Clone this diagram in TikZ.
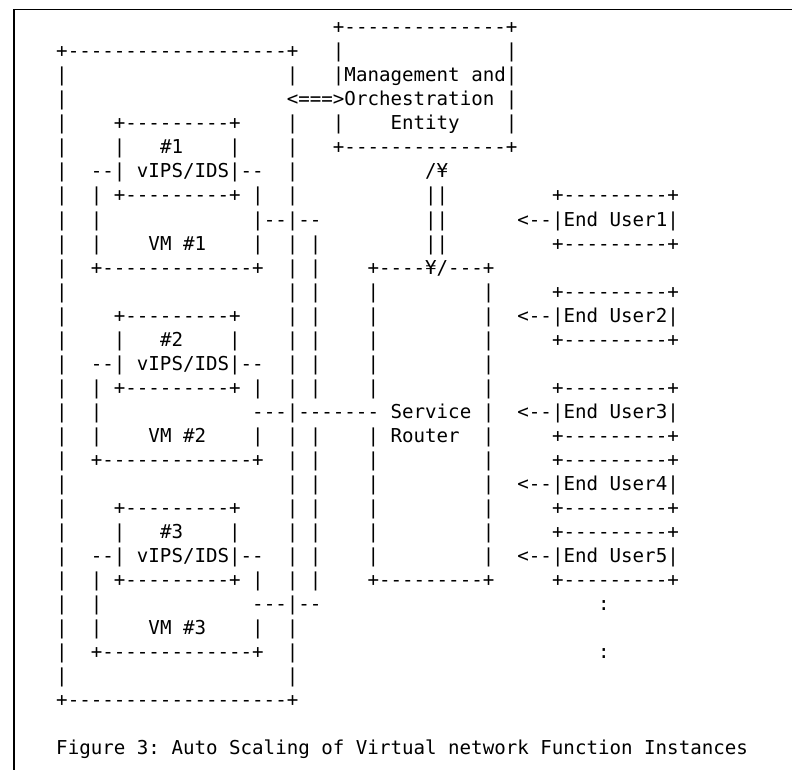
\documentclass[tikz,border=0pt]{standalone}
\usepackage{fontspec}
\setmonofont{DejaVu Sans Mono}
\begin{document}
\begin{tikzpicture}[
  ch/.style={anchor=base west, inner sep=0pt, outer sep=0pt,
    font=\ttfamily\fontsize{19.15pt}{24pt}\selectfont\frenchspacing},
  frame/.style={line width=1.8pt, black}
]
\useasboundingbox (0,0) rectangle (792pt,-770pt);
% page frame: left rule and top rule
\draw[frame] (14pt,-770pt) -- (14pt,-9.5pt) -- (792pt,-9.5pt);

% character grid: one unit = one column / one text row
\begin{scope}[shift={(56.23pt,-34pt)}, x=11.53pt, y=-24pt]
  % Management and Orchestration entity
  \node[ch] (mtop) at (24,0) {+--------------+};
  \node[ch] (ml1) at (24,1) {|};
  \node[ch] (mr1) at (39,1) {|};
  \node[ch] (mtxt1) at (24,2) {|Management and|};
  \node[ch] (mtxt2) at (20,3) {<===>Orchestration |};
  \node[ch] (ml4) at (24,4) {|};
  \node[ch] (mtxt3) at (29,4) {Entity};
  \node[ch] (mr4) at (39,4) {|};
  \node[ch] (mbot) at (24,5) {+--------------+};

  % outer host box
  \node[ch] (otop) at (0,1) {+-------------------+};
  \node[ch] (obot) at (0,28) {+-------------------+};
  \foreach \r in {2,3,4,5,6,7,8,9,10,11,12,13,14,15,16,17,18,19,20,21,22,23,24,25,26,27}
    \node[ch] (ol\r) at (0,\r) {|};
  \foreach \r in {2,4,5,6,7,9,10,11,12,13,14,15,17,18,19,20,21,22,23,25,26,27}
    \node[ch] (or\r) at (20,\r) {|};

  % VM boxes with their vIPS/IDS instances
  \foreach \r in {4,7,12,15,20,23}
    \node[ch] (ips\r) at (5,\r) {+---------+};
  \foreach \r/\n in {5/1,13/2,21/3} {
    \node[ch] (ipsl\r) at (5,\r) {|};
    \node[ch] (ipsn\r) at (9,\r) {\#\n};
    \node[ch] (ipsr\r) at (15,\r) {|};
  }
  \foreach \r in {6,14,22}
    \node[ch] (ipst\r) at (3,\r) {--| vIPS/IDS|--};
  \foreach \r in {7,8,9,15,16,17,23,24,25}
    \node[ch] (vml\r) at (3,\r) {|};
  \foreach \r in {7,9,15,17,23,25}
    \node[ch] (vmr\r) at (17,\r) {|};
  \foreach \r/\n in {9/1,17/2,25/3}
    \node[ch] (vmn\r) at (8,\r) {VM \#\n};
  \foreach \r in {10,18,26}
    \node[ch] (vmb\r) at (3,\r) {+-------------+};

  % links from the VMs toward the service router
  \node[ch] (lk8) at (17,8) {|--|--};
  \node[ch] (lk16) at (17,16) {---|------- Service |};
  \node[ch] (lk24) at (17,24) {---|--};
  \foreach \r in {9,10,11,12,13,14,15,17,18,19,20,21,22,23}
    \node[ch] (bus\r) at (22,\r) {|};

  % management link down to the router
  \node[ch] (mg6) at (32,6) {/¥};
  \foreach \r in {7,8,9}
    \node[ch] (mg\r) at (32,\r) {||};

  % service router
  \node[ch] (rtop) at (27,10) {+----¥/---+};
  \foreach \r in {11,12,13,14,15,17,18,19,20,21,22} {
    \node[ch] (rl\r) at (27,\r) {|};
    \node[ch] (rr\r) at (37,\r) {|};
  }
  \node[ch] (rname) at (29,17) {Router};
  \node[ch] (rbot) at (27,23) {+---------+};

  % end users
  \foreach \r in {7,9,11,13,15,17,18,20,21,23}
    \node[ch] (eub\r) at (43,\r) {+---------+};
  \foreach \r/\n in {8/1,12/2,16/3,19/4,22/5}
    \node[ch] (eu\n) at (40,\r) {<--|End User\n|};
  \node[ch] (dots1) at (47,24) {:};
  \node[ch] (dots2) at (47,26) {:};

  % caption
  \node[ch] (cap) at (0,30) {Figure 3: Auto Scaling of Virtual network Function Instances};
\end{scope}
\end{tikzpicture}
\end{document}
